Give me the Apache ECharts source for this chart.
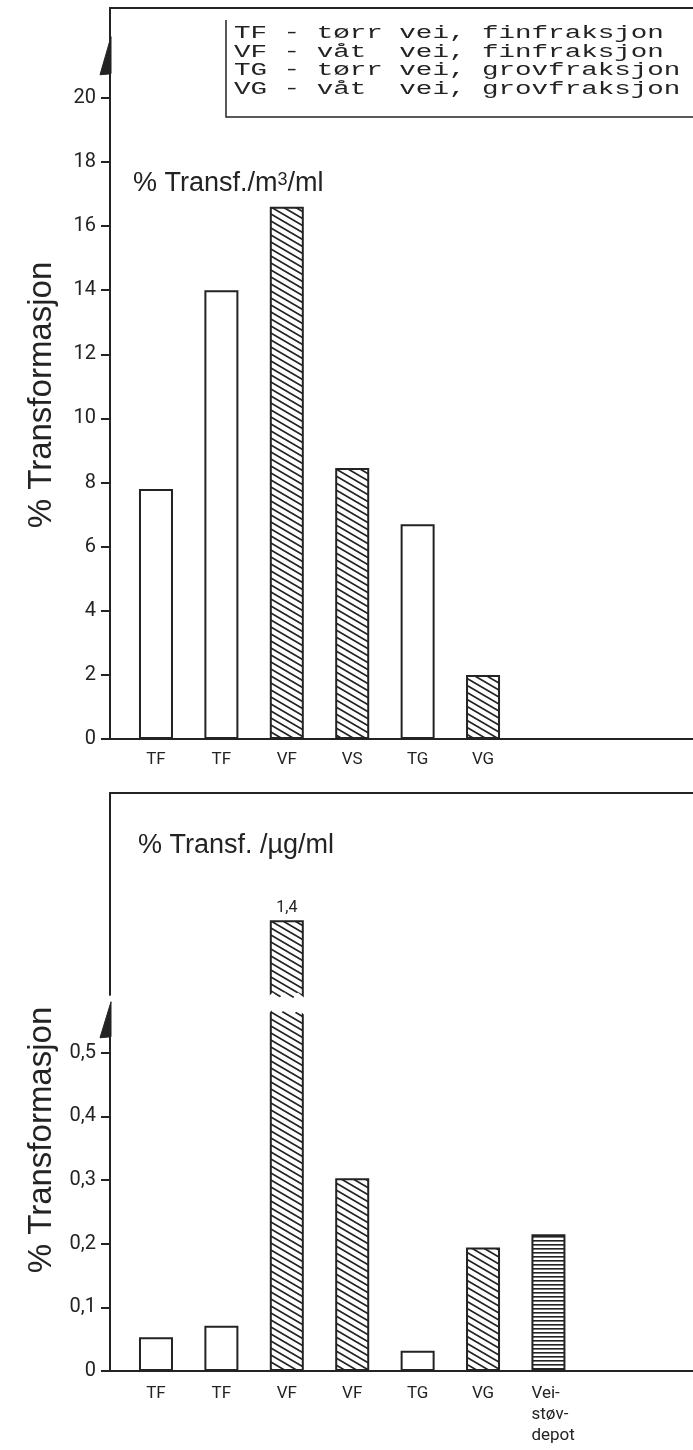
<!DOCTYPE html>
<html>
<head>
<meta charset="utf-8">
<script src="https://cdn.jsdelivr.net/npm/echarts@6/dist/echarts.min.js"></script>
<style>
  html, body { margin: 0; padding: 0; background: #fff; }
  #chart { width: 693px; height: 1450px; }
</style>
</head>
<body>
<div id="chart"></div>
<script>
// Upper panel: % transformation per m3 per ml
const topCats = ['TF', 'TF', 'VF', 'VS', 'TG', 'VG'];
const topVals = [7.8, 14.0, 16.6, 8.45, 6.7, 2.0];
const topFill = ['open', 'open', 'hatch', 'hatch', 'open', 'hatch'];
const topTicks = [0, 2, 4, 6, 8, 10, 12, 14, 16, 18, 20];

// Lower panel: % transformation per µg/ml
const botCats = ['TF', 'TF', 'VF', 'VF', 'TG', 'VG', 'Vei-\nstøv-\ndepot'];
const botVals = [0.053, 0.071, 1.4, 0.303, 0.032, 0.194, 0.215];
const botFill = ['open', 'open', 'hatch', 'hatch', 'open', 'hatch', 'lines'];
const botTicks = [0, 0.1, 0.2, 0.3, 0.4, 0.5];
const botTickLabels = ['0', '0,1', '0,2', '0,3', '0,4', '0,5'];
const botLabelText = { 2: '1,4' };

// Key for the abbreviations
const keyLines = [
  'TF - tørr vei, finfraksjon',
  'VF - våt  vei, finfraksjon',
  'TG - tørr vei, grovfraksjon',
  'VG - våt  vei, grovfraksjon'
];

const INK = '#232323';
const NUM_FONT = 'Roboto, "DejaVu Sans", sans-serif';
const SANS = '"Liberation Sans", Arial, sans-serif';

function hatchCanvas() {
  const w = 12, h = 7;
  const c = document.createElement('canvas');
  c.width = w; c.height = h;
  const g = c.getContext('2d');
  g.fillStyle = '#fff'; g.fillRect(0, 0, w, h);
  g.strokeStyle = INK; g.lineWidth = 1.7;
  g.beginPath();
  g.moveTo(-w, -h); g.lineTo(2 * w, 2 * h);
  g.moveTo(-w, 0); g.lineTo(w, 2 * h);
  g.moveTo(0, -h); g.lineTo(2 * w, h);
  g.stroke();
  return c;
}
function linesCanvas() {
  const c = document.createElement('canvas');
  c.width = 4; c.height = 4;
  const g = c.getContext('2d');
  g.fillStyle = '#fff'; g.fillRect(0, 0, 4, 4);
  g.fillStyle = INK; g.fillRect(0, 0, 4, 1.6);
  return c;
}
const fills = {
  open: '#ffffff',
  hatch: { image: hatchCanvas(), repeat: 'repeat' },
  lines: { image: linesCanvas(), repeat: 'repeat' }
};

const X_MIN = -0.703, X_MAX = 8.21;

function barData(vals, kinds) {
  return vals.map((v, i) => ({
    value: [i, v],
    itemStyle: { color: fills[kinds[i]] }
  }));
}

const axisLineStyle = { color: INK, width: 2 };
const catLabelStyle = { color: INK, fontFamily: NUM_FONT, fontSize: 17, lineHeight: 21 };

function catAxis(gridIndex, cats, margin) {
  return {
    gridIndex, type: 'value', min: X_MIN, max: X_MAX,
    splitLine: { show: false },
    axisLine: { show: true, onZero: false, lineStyle: axisLineStyle },
    axisTick: { show: false },
    axisLabel: Object.assign({
      customValues: cats.map((c, i) => i),
      // multi-line names are set flush left under their bar
      formatter: v => {
        const name = cats[Math.round(v)];
        return name.indexOf('\n') < 0 ? name
          : name.split('\n').map(s => '{left|' + s + '}').join('\n');
      },
      margin,
      rich: { left: Object.assign({ width: 34, align: 'left' }, catLabelStyle) }
    }, catLabelStyle)
  };
}
function frameAxis(gridIndex) {
  return {
    gridIndex, type: 'value', position: 'top', min: X_MIN, max: X_MAX,
    splitLine: { show: false },
    axisLine: { show: true, onZero: false, lineStyle: axisLineStyle },
    axisTick: { show: false }, axisLabel: { show: false }
  };
}

const chart = echarts.init(document.getElementById('chart'), null, { renderer: 'canvas' });

const barCommon = {
  type: 'bar', barWidth: 34,
  itemStyle: { borderColor: INK, borderWidth: 2 },
  emphasis: { disabled: true },
  animation: false
};

chart.setOption({
  backgroundColor: '#fff',
  animation: false,
  grid: [
    { left: 110, right: 0, top: 8, bottom: 711 },
    { left: 110, right: 0, top: 793, bottom: 79 }
  ],
  xAxis: [
    catAxis(0, topCats, 10),
    frameAxis(0),
    catAxis(1, botCats, 12),
    frameAxis(1)
  ],
  yAxis: [
    {
      gridIndex: 0, type: 'value', min: 0, max: 22.8,
      splitLine: { show: false },
      axisLine: { show: true, onZero: false, lineStyle: axisLineStyle },
      axisTick: { show: true, length: 9, customValues: topTicks, lineStyle: { color: INK, width: 2 } },
      axisLabel: {
        customValues: topTicks, margin: 14,
        color: INK, fontFamily: NUM_FONT, fontSize: 20
      }
    },
    {
      gridIndex: 1, type: 'value', min: 0, max: 1.6,
      breaks: [{ start: 0.563, end: 1.283, gap: '3.1%' }],
      breakArea: {
        show: true,
        itemStyle: { color: '#fff', borderColor: 'rgba(0,0,0,0)', borderWidth: 0, opacity: 1 },
        zigzagAmplitude: 3, zigzagMinSpan: 5, zigzagMaxSpan: 10,
        expandOnClick: false
      },
      splitLine: { show: false },
      axisLine: { show: true, onZero: false, lineStyle: axisLineStyle },
      axisTick: { show: true, length: 9, customValues: botTicks, lineStyle: { color: INK, width: 2 } },
      axisLabel: {
        customValues: botTicks, margin: 14,
        formatter: v => botTickLabels[Math.round(v * 10)],
        color: INK, fontFamily: NUM_FONT, fontSize: 20
      }
    }
  ],
  series: [
    Object.assign({}, barCommon, {
      xAxisIndex: 0, yAxisIndex: 0,
      data: barData(topVals, topFill)
    }),
    Object.assign({}, barCommon, {
      xAxisIndex: 2, yAxisIndex: 1,
      data: barData(botVals, botFill).map((d, i) => botLabelText[i] ? Object.assign(d, {
        label: {
          show: true, position: 'top', distance: 4,
          formatter: botLabelText[i],
          color: INK, fontFamily: NUM_FONT, fontSize: 16
        }
      }) : d)
    })
  ]
});

// half arrow-heads drawn on the value axes, placed relative to a tick value
function halfArrow(id, gridIndex, refVal, tipOff, baseOff) {
  const p = chart.convertToPixel({ gridIndex }, [X_MIN, refVal]);
  const x = p[0], y = p[1];
  return {
    id, type: 'polygon', z: 120,
    shape: { points: [[x + 1, y - tipOff], [x + 1, y - baseOff], [x - 10, y - baseOff + 1]] },
    style: { fill: INK, stroke: INK, lineWidth: 1 }
  };
}

chart.setOption({
  graphic: [
    // key box
    {
      id: 'keyFrame', type: 'polyline', z: 50,
      shape: { points: [[226, 20], [226, 117], [693, 117]] },
      style: { stroke: INK, lineWidth: 1.5, fill: null }
    },
    {
      id: 'keyText', type: 'group', x: 234, y: 0, scaleX: 1.45, z: 50,
      children: keyLines.map((t, i) => ({
        type: 'text', x: 0, y: 33 + i * 18.5,
        style: {
          text: t, fill: INK, fontFamily: '"Liberation Mono", "DejaVu Sans Mono", monospace',
          fontSize: 19, verticalAlign: 'middle', align: 'left'
        }
      }))
    },
    {
      id: 'titleTop', type: 'text', x: 133, y: 184, z: 50,
      style: {
        text: '% Transf./m{sup|3}/ml', fill: INK, fontFamily: SANS, fontSize: 27, verticalAlign: 'middle',
        rich: { sup: { fontFamily: SANS, fontSize: 18, fill: INK, verticalAlign: 'top', padding: [1, 0, 0, 0] } }
      }
    },
    {
      id: 'titleBot', type: 'text', x: 138, y: 846, z: 50,
      style: { text: '% Transf. /µg/ml', fill: INK, fontFamily: SANS, fontSize: 27, verticalAlign: 'middle' }
    },
    {
      id: 'yNameTop', type: 'text', x: 42, y: 395, rotation: Math.PI / 2, z: 50,
      style: { text: '% Transformasjon', fill: INK, fontFamily: SANS, fontSize: 33, align: 'center', verticalAlign: 'middle' }
    },
    {
      id: 'yNameBot', type: 'text', x: 42, y: 1140, rotation: Math.PI / 2, z: 50,
      style: { text: '% Transformasjon', fill: INK, fontFamily: SANS, fontSize: 33, align: 'center', verticalAlign: 'middle' }
    },
    halfArrow('arrowTop', 0, 20, 61, 24),
    halfArrow('arrowBot', 1, 0.5, 51, 16)
  ]
});
</script>
</body>
</html>
